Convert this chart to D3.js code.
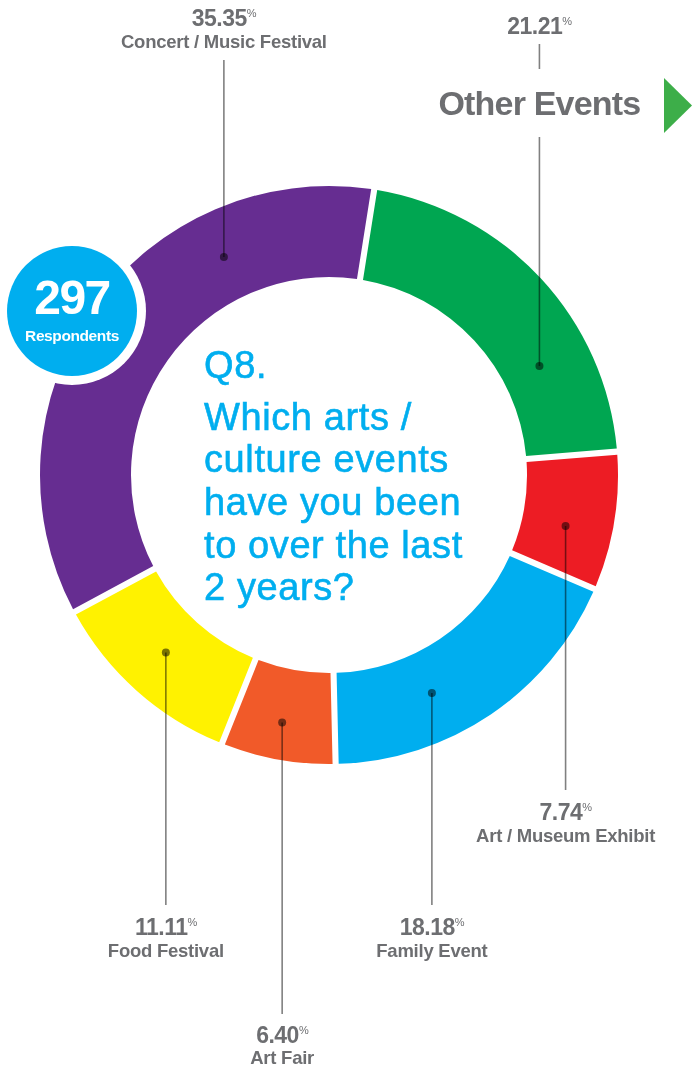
<!DOCTYPE html>
<html>
<head>
<meta charset="utf-8">
<script src="https://cdn.jsdelivr.net/npm/d3@7"></script>
<style>
  html, body { margin: 0; padding: 0; background: #fff; }
  svg { display: block; }
  text { font-family: "Liberation Sans", Arial, Helvetica, sans-serif; }
</style>
</head>
<body>
<svg id="chart" width="692" height="1069"></svg>
<script>
// ---- Data ----
const categories = ["Other Events", "Art / Museum Exhibit", "Family Event", "Art Fair", "Food Festival", "Concert / Music Festival"];
const values = [21.21, 7.74, 18.18, 6.40, 11.11, 35.35];
const colors = ["#00A651", "#ED1C24", "#00AEEF", "#F15A29", "#FFF200", "#662D91"];
const respondents = 297;
const titleLines = ["Q8.", "Which arts /", "culture events", "have you been", "to over the last", "2 years?"];

// ---- Layout (not data) ----
const W = 692, H = 1069;
const cx = 329, cy = 475, rOuter = 289, rInner = 198;
const startDeg = 9;
// anchor: fraction along slice arc, radius of the dot; label: line end y, value baseline, name baseline
const layout = [
  { frac: 0.702, r: 237, lineEnd: 137, valueY: 34, nameY: 115, big: true },
  { frac: 0.602, r: 242, lineEnd: 790, valueY: 820, nameY: 842 },
  { frac: 0.634, r: 241, lineEnd: 905, valueY: 935, nameY: 957 },
  { frac: 0.522, r: 252, lineEnd: 1014, valueY: 1043, nameY: 1064 },
  { frac: 0.522, r: 241, lineEnd: 905, valueY: 935, nameY: 957 },
  { frac: 0.727, r: 242, lineEnd: 60, valueY: 26, nameY: 48 }
];
const gray = "#6D6E71";
const lineGray = "#808080";

const svg = d3.select("#chart");
const g = svg.append("g").attr("transform", `translate(${cx},${cy})`);

const data = categories.map((c, i) => ({ name: c, value: values[i], color: colors[i], lay: layout[i] }));

const start = startDeg * Math.PI / 180;
const pie = d3.pie().value(d => d.value).sort(null).startAngle(start).endAngle(start + 2 * Math.PI);
const arcs = pie(data);
const arc = d3.arc().innerRadius(rInner).outerRadius(rOuter).padAngle(0.021).padRadius(290);

g.selectAll("path.slice").data(arcs).join("path")
  .attr("class", "slice")
  .attr("d", arc)
  .attr("fill", d => d.data.color);

// anchors
arcs.forEach(a => {
  const L = a.data.lay;
  const ang = a.startAngle + L.frac * (a.endAngle - a.startAngle);
  a.ax = cx + L.r * Math.sin(ang);
  a.ay = cy - L.r * Math.cos(ang);
});

const lines = svg.append("g");
arcs.forEach(a => {
  const L = a.data.lay;
  lines.append("line")
    .attr("x1", a.ax).attr("x2", a.ax)
    .attr("y1", a.ay).attr("y2", L.lineEnd)
    .attr("stroke", lineGray).attr("stroke-width", 1.6)
    .style("mix-blend-mode", "multiply");
  if (L.big) {
    lines.append("line")
      .attr("x1", a.ax).attr("x2", a.ax)
      .attr("y1", 44).attr("y2", 69)
      .attr("stroke", lineGray).attr("stroke-width", 1.6);
  }
  lines.append("circle")
    .attr("cx", a.ax).attr("cy", a.ay).attr("r", 4)
    .attr("fill", "#7a7a7a")
    .style("mix-blend-mode", "multiply");
});

// labels
const fmt = d3.format(".2f");
arcs.forEach(a => {
  const L = a.data.lay;
  const t = svg.append("text")
    .attr("x", a.ax).attr("y", L.valueY)
    .attr("text-anchor", "middle")
    .attr("fill", gray)
    .attr("font-weight", "bold")
    .attr("font-size", 23)
    .attr("letter-spacing", -0.5);
  t.append("tspan").text(fmt(a.data.value));
  t.append("tspan").attr("font-size", 11).attr("dy", -9).attr("font-weight", "normal").text("%");
  svg.append("text")
    .attr("x", a.ax).attr("y", L.nameY)
    .attr("text-anchor", "middle")
    .attr("fill", gray)
    .attr("font-weight", "bold")
    .attr("font-size", L.big ? 34 : 18.5)
    .attr("letter-spacing", L.big ? -0.8 : -0.25)
    .text(a.data.name);
});

// green arrow next to "Other Events"
svg.append("path")
  .attr("d", d3.line()([[664, 78], [692, 105.5], [664, 133]]) + "Z")
  .attr("fill", "#3DAE49");

// respondents badge
svg.append("circle").attr("cx", 72).attr("cy", 311).attr("r", 74).attr("fill", "#fff");
svg.append("circle").attr("cx", 72).attr("cy", 311).attr("r", 65).attr("fill", "#00AEEF");
svg.append("text").attr("x", 72).attr("y", 314).attr("text-anchor", "middle")
  .attr("fill", "#fff").attr("font-weight", "bold").attr("font-size", 48).attr("letter-spacing", -1.5)
  .text(respondents);
svg.append("text").attr("x", 72).attr("y", 341).attr("text-anchor", "middle")
  .attr("fill", "#fff").attr("font-weight", "bold").attr("font-size", 15.5).attr("letter-spacing", -0.4)
  .text("Respondents");

// center title
const titleY = [378, 430, 472, 515, 558, 600];
const title = svg.append("text").attr("fill", "#00AEEF").attr("font-size", 38).attr("letter-spacing", 0.6)
  .attr("stroke", "#00AEEF").attr("stroke-width", 0.6);
titleLines.forEach((s, i) => {
  title.append("tspan").attr("x", 204).attr("y", titleY[i]).text(s);
});
</script>
</body>
</html>
